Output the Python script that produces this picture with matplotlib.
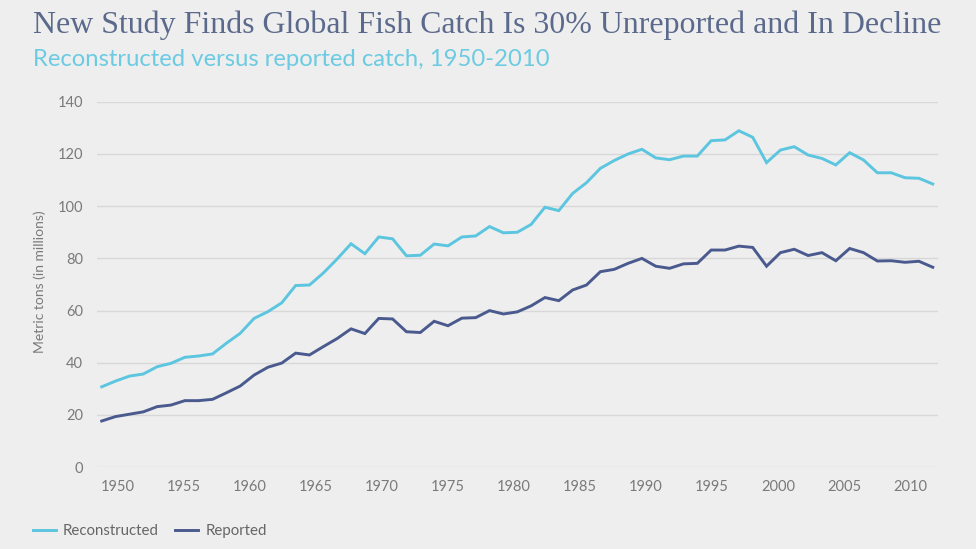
import matplotlib
matplotlib.use("Agg")
import matplotlib.pyplot as plt

# Catch data (million metric tons)
years = list(range(1950, 2011))
reconstructed = [30.8, 33.0, 34.9, 35.7, 38.5, 39.8, 42.1, 42.6, 43.4, 47.5,
                 51.3, 57.0, 59.6, 63.0, 69.6, 69.8, 74.4, 79.8, 85.6, 81.8,
                 88.2, 87.5, 81.0, 81.2, 85.5, 84.8, 88.2, 88.6, 92.2, 89.8,
                 90.0, 93.0, 99.6, 98.3, 104.9, 109.0, 114.5, 117.5, 120.0, 121.8,
                 118.5, 117.8, 119.2, 119.2, 125.1, 125.4, 128.9, 126.4, 116.7, 121.5,
                 122.8, 119.6, 118.3, 115.8, 120.5, 117.7, 112.8, 112.8, 110.9, 110.7,
                 108.5]
reported = [17.7, 19.4, 20.3, 21.2, 23.2, 23.8, 25.5, 25.5, 26.0, 28.5,
            31.1, 35.3, 38.3, 39.9, 43.7, 43.0, 46.2, 49.3, 53.0, 51.2,
            57.0, 56.8, 51.9, 51.6, 55.9, 54.2, 57.1, 57.3, 60.0, 58.7,
            59.5, 61.8, 65.0, 63.8, 67.9, 69.8, 74.9, 75.8, 78.1, 80.0,
            77.0, 76.2, 77.9, 78.1, 83.2, 83.2, 84.7, 84.2, 77.0, 82.2,
            83.5, 81.1, 82.2, 79.1, 83.8, 82.2, 79.0, 79.1, 78.5, 78.9,
            76.6]
tick_years = list(range(1950, 2011, 5))
y_ticks = [0, 20, 40, 60, 80, 100, 120, 140]

bg = "#eeeeee"
cyan = "#5cc5df"
navy = "#4a5a8e"
grey = "#7a7a7a"

fig = plt.figure(figsize=(9.76, 5.49), dpi=100, facecolor=bg)
ax = fig.add_axes([0.0994, 0.149, 0.8617, 0.6656], facecolor=bg)

ax.plot(years, reconstructed, color=cyan, lw=2.1, label="Reconstructed", solid_joinstyle="miter")
ax.plot(years, reported, color=navy, lw=2.1, label="Reported", solid_joinstyle="miter")

ax.set_xlim(1949.66, 2010.38)
ax.set_ylim(0, 140)
ax.set_yticks(y_ticks)
ax.grid(axis="y", color="#d8d8d8", lw=1.0)
ax.set_axisbelow(True)
for s in ax.spines.values():
    s.set_visible(False)

# in the original the year labels sit a little off the data grid
tick_pos = [1951.18 + (t - 1950) * 0.953 for t in tick_years]
ax.set_xticks(tick_pos)
ax.set_xticklabels([str(t) for t in tick_years])
ax.tick_params(axis="both", length=0, labelcolor=grey, labelsize=10.5)
ax.tick_params(axis="x", pad=9)
ax.tick_params(axis="y", pad=10)
for lbl in ax.get_xticklabels() + ax.get_yticklabels():
    lbl.set_family("Lato")

fig.text(40 / 976, 1 - 282 / 549, "Metric tons (in millions)", rotation=90,
         ha="center", va="center", color=grey, fontsize=10, family="Lato")


def fit_text(x, y, s, target_px, **kw):
    t = fig.text(x, y, s, **kw)
    r = fig.canvas.get_renderer()
    w = t.get_window_extent(r).width
    t.set_fontsize(t.get_fontsize() * target_px / w)
    return t


fit_text(33 / 976, 1 - 33 / 549, "New Study Finds Global Fish Catch Is 30% Unreported and In Decline",
         906, fontsize=20, family="Liberation Serif", color="#5b6a8c", va="baseline")
fit_text(33 / 976, 1 - 66 / 549, "Reconstructed versus reported catch, 1950-2010",
         521, fontsize=16, family="Lato", color="#6ccbe2", va="baseline")

leg = fig.legend(loc="center left", bbox_to_anchor=(33 / 976, 1 - 531 / 549), ncol=2,
                 frameon=False, borderpad=0, borderaxespad=0, handlelength=1.5,
                 handletextpad=0.5, columnspacing=1.1, prop={"family": "Lato", "size": 10.8})
for txt in leg.get_texts():
    txt.set_color("#666666")

fig.savefig("out.png", dpi=100, facecolor=bg)
